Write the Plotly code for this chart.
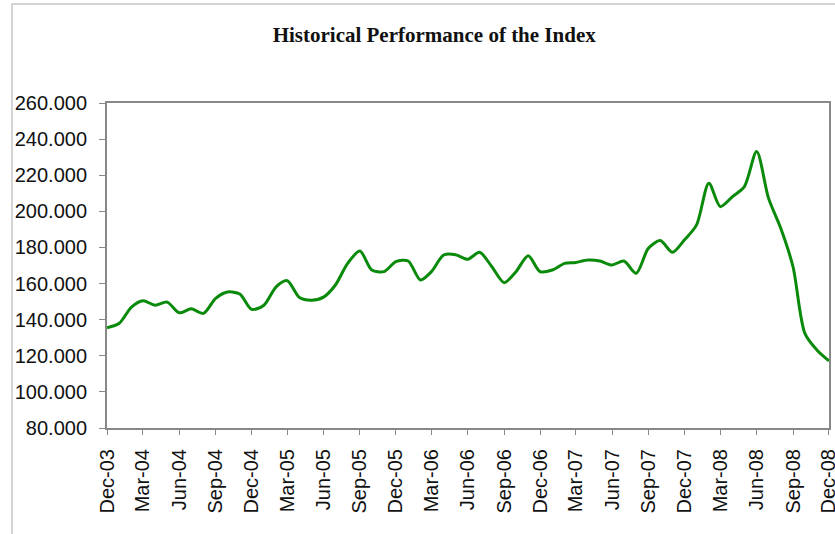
import plotly.graph_objects as go
import pandas as pd

months = pd.date_range("2003-12-01", "2008-12-01", freq="MS")
index_values = [
    135.5, 138.0, 147.0, 150.5, 148.0, 149.7, 143.8, 146.0, 143.5, 151.8, 155.3, 154.2,
    145.7, 148.0, 158.2, 161.6, 152.3, 150.8, 152.5, 159.2, 171.2, 178.0, 167.5, 166.6,
    172.1, 172.5, 162.0, 166.6, 175.8, 176.0, 173.5, 177.3, 169.3, 160.5, 166.6, 175.4,
    166.6, 167.5, 171.2, 171.7, 173.0, 172.5, 170.3, 172.5, 165.7, 179.5, 183.8, 177.3,
    184.1, 192.5, 215.6, 202.6, 208.2, 213.7, 233.1, 207.3, 190.6, 169.3, 132.4, 123.1,
    117.2,
]
y_ticks = [80, 100, 120, 140, 160, 180, 200, 220, 240, 260]
title_text = "Historical Performance of the Index"

fig = go.Figure()
fig.add_trace(go.Scatter(
    x=months, y=index_values, mode="lines",
    line=dict(color="#0a8a0a", width=3, shape="spline", smoothing=0.8),
    hoverinfo="skip",
))

W, H = 835, 534
L, R, T, B = 107, 6, 103, 106
pw, ph = W - L - R, H - T - B

def px_x(p):
    return (p - L) / pw

def px_y(p):
    return (H - B - p) / ph

x_end = months[-1] + pd.Timedelta(hours=2)

fig.update_layout(
    width=W, height=H,
    margin=dict(l=L, r=R, t=T, b=B, autoexpand=False),
    paper_bgcolor="white", plot_bgcolor="white",
    showlegend=False,
    title=dict(text="<b>" + title_text + "</b>", x=0.52, xanchor="center",
               y=1 - 34.5 / H, yanchor="middle",
               font=dict(family="Liberation Serif", size=21, color="#111111")),
    xaxis=dict(
        range=[months[0], x_end], automargin=False,
        tickmode="linear", tick0=months[0], dtick="M3", tickformat="%b-%y",
        tickangle=-90, ticks="outside", ticklen=5, tickcolor="#888888", tickwidth=1,
        showline=True, linecolor="#888888", linewidth=2, mirror=True,
        showgrid=False, zeroline=False, ticklabeloverflow="allow",
        tickfont=dict(family="Liberation Sans", size=20, color="#111111"),
        ticklabelstandoff=6,
    ),
    yaxis=dict(
        range=[80, 260], tickvals=y_ticks, automargin=False,
        ticktext=[f"{v:.3f}" for v in y_ticks],
        ticks="outside", ticklen=6, tickcolor="#888888", tickwidth=1,
        showline=True, linecolor="#888888", linewidth=2, mirror=True,
        showgrid=False, zeroline=False,
        tickfont=dict(family="Liberation Sans", size=20, color="#111111"),
        ticklabelstandoff=8,
    ),
    shapes=[dict(type="rect", xref="paper", yref="paper",
                 x0=px_x(12), x1=px_x(845), y0=px_y(545), y1=px_y(4),
                 line=dict(color="#d4d4d4", width=2), layer="below")],
)

fig.write_html(
    "out.html",
    config={"displayModeBar": False, "staticPlot": True},
    post_script="document.body.style.margin='0';document.body.style.overflow='hidden';",
)
